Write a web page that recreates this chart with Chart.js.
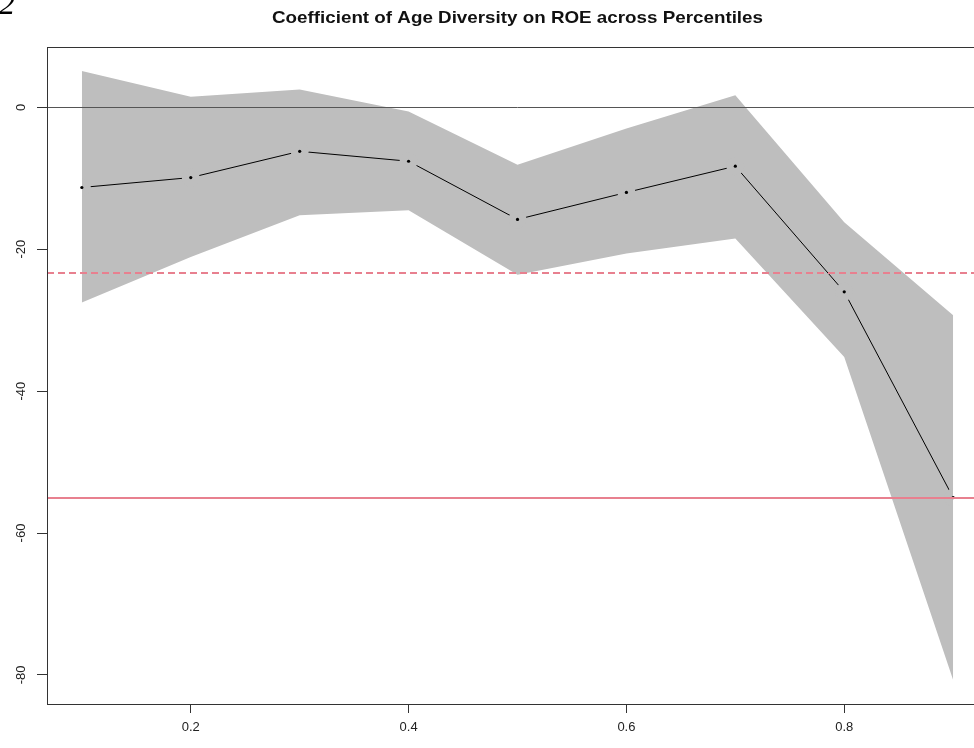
<!DOCTYPE html>
<html>
<head>
<meta charset="utf-8">
<script src="https://cdn.jsdelivr.net/npm/chart.js@4/dist/chart.umd.min.js"></script>
<style>
  html, body { margin: 0; padding: 0; background: #fff; overflow: hidden; }
  #area { width: 1000px; height: 748px; }
</style>
</head>
<body>
<div id="area"><canvas id="grafico" width="1000" height="748"></canvas></div>
<script>
// Dados
const percentis = [0.1, 0.2, 0.3, 0.4, 0.5, 0.6, 0.7, 0.8, 0.9];
const coeficientes = [-11.3, -9.9, -6.2, -7.6, -15.8, -12.0, -8.3, -26.0, -55.0];
const limiteSuperior = [5.1, 1.5, 2.5, -0.6, -8.1, -3.0, 1.7, -16.2, -29.3];
const limiteInferior = [-27.5, -21.1, -15.2, -14.5, -23.6, -20.6, -18.5, -35.2, -80.7];
const ticksX = [0.2, 0.4, 0.6, 0.8];
const ticksY = [0, -20, -40, -60, -80];
const linhaZero = 0;
const linhaTracejada = -23.3;
const linhaVermelha = -55.1;
const titulo = 'Coefficient of Age Diversity on ROE across Percentiles';
const rotuloFigura = '2';

const CINZA = '#bebebe';
const VERMELHO = '#e8808f';

function pontos(valores) {
  return percentis.map((p, i) => ({ x: p, y: valores[i] }));
}

// linhas horizontais, caixa, título e o "2" no canto
const pluginExtras = {
  id: 'extras',
  afterDatasetsDraw(chart) {
    const { ctx, chartArea: a, scales: { y } } = chart;
    const linha = (valor, cor, largura, tracejado) => {
      let py = Math.round(y.getPixelForValue(valor));
      if (largura % 2 === 1) py += 0.5;
      ctx.save();
      ctx.strokeStyle = cor;
      ctx.lineWidth = largura;
      ctx.setLineDash(tracejado);
      ctx.beginPath();
      ctx.moveTo(a.left, py);
      ctx.lineTo(a.right, py);
      ctx.stroke();
      ctx.restore();
    };
    linha(linhaZero, '#555', 1, []);
    linha(linhaTracejada, VERMELHO, 2, [7, 4]);
    linha(linhaVermelha, VERMELHO, 2, []);

    ctx.save();
    ctx.strokeStyle = '#333';
    ctx.lineWidth = 1;
    ctx.strokeRect(Math.round(a.left) + 0.5, Math.round(a.top) + 0.5,
      Math.round(a.right - a.left), Math.round(a.bottom - a.top));
    ctx.restore();
  },
  afterDraw(chart) {
    const { ctx, chartArea: a } = chart;
    ctx.save();
    ctx.fillStyle = '#111';
    ctx.font = 'bold 17px "Liberation Sans", Arial, sans-serif';
    ctx.textBaseline = 'middle';
    ctx.textAlign = 'center';
    // o título original é mais largo que a Arial: estica na horizontal
    const largura = ctx.measureText(titulo).width;
    const escala = 491 / largura;
    ctx.translate((a.left + a.right) / 2, 18);
    ctx.scale(escala, 1);
    ctx.fillText(titulo, 0, 0);
    ctx.restore();

    ctx.save();
    ctx.font = 'italic 32px "Liberation Serif", "Times New Roman", serif';
    ctx.textAlign = 'left';
    ctx.textBaseline = 'alphabetic';
    ctx.fillStyle = '#000';
    ctx.fillText(rotuloFigura, -1, 14);
    ctx.restore();
  }
};

const fonteEixo = { family: '"Liberation Sans", Arial, sans-serif', size: 13 };

new Chart(document.getElementById('grafico'), {
  type: 'line',
  data: {
    datasets: [
      {
        data: pontos(limiteSuperior),
        fill: '+1',
        backgroundColor: CINZA,
        borderColor: 'transparent',
        borderWidth: 0,
        pointRadius: 0,
        order: 10
      },
      {
        data: pontos(limiteInferior),
        fill: false,
        borderColor: 'transparent',
        borderWidth: 0,
        pointRadius: 0,
        order: 11
      },
      {
        data: pontos(coeficientes),
        fill: false,
        borderColor: '#000',
        borderWidth: 1,
        pointRadius: 0,
        tension: 0,
        order: 3
      },
      {
        // disco cinza que abre o espaço entre a linha e o ponto (type = "b" do R)
        data: pontos(coeficientes),
        showLine: false,
        pointRadius: 9,
        pointBackgroundColor: CINZA,
        pointBorderColor: 'transparent',
        pointBorderWidth: 0,
        clip: { left: -35, right: -35, top: 0, bottom: 0 },
        order: 2
      },
      {
        data: pontos(coeficientes),
        showLine: false,
        pointRadius: 1.6,
        pointBackgroundColor: '#000',
        pointBorderColor: 'transparent',
        pointBorderWidth: 0,
        order: 1
      }
    ]
  },
  options: {
    responsive: false,
    animation: false,
    layout: { padding: { top: 47, right: 12, left: 0, bottom: 0 } },
    plugins: {
      legend: { display: false },
      title: { display: false },
      tooltip: { enabled: false }
    },
    scales: {
      x: {
        type: 'linear',
        min: 0.068,
        max: 0.932,
        afterBuildTicks: s => { s.ticks = ticksX.map(v => ({ value: v })); },
        afterFit: s => { s.height = 44; },
        grid: { drawOnChartArea: false, drawTicks: true, tickLength: 9, color: '#333' },
        border: { display: false },
        ticks: {
          font: fonteEixo,
          color: '#222',
          padding: 7,
          minRotation: 0,
          maxRotation: 0,
          callback: v => v.toFixed(1)
        }
      },
      y: {
        type: 'linear',
        min: -84.1,
        max: 8.5,
        afterBuildTicks: s => { s.ticks = ticksY.map(v => ({ value: v })); },
        afterFit: s => { s.width = 47; },
        grid: { drawOnChartArea: false, drawTicks: true, tickLength: 10, color: '#333' },
        border: { display: false },
        ticks: {
          font: fonteEixo,
          color: '#222',
          padding: 6,
          minRotation: 90,
          maxRotation: 90,
          crossAlign: 'center'
        }
      }
    }
  },
  plugins: [pluginExtras]
});
</script>
</body>
</html>
